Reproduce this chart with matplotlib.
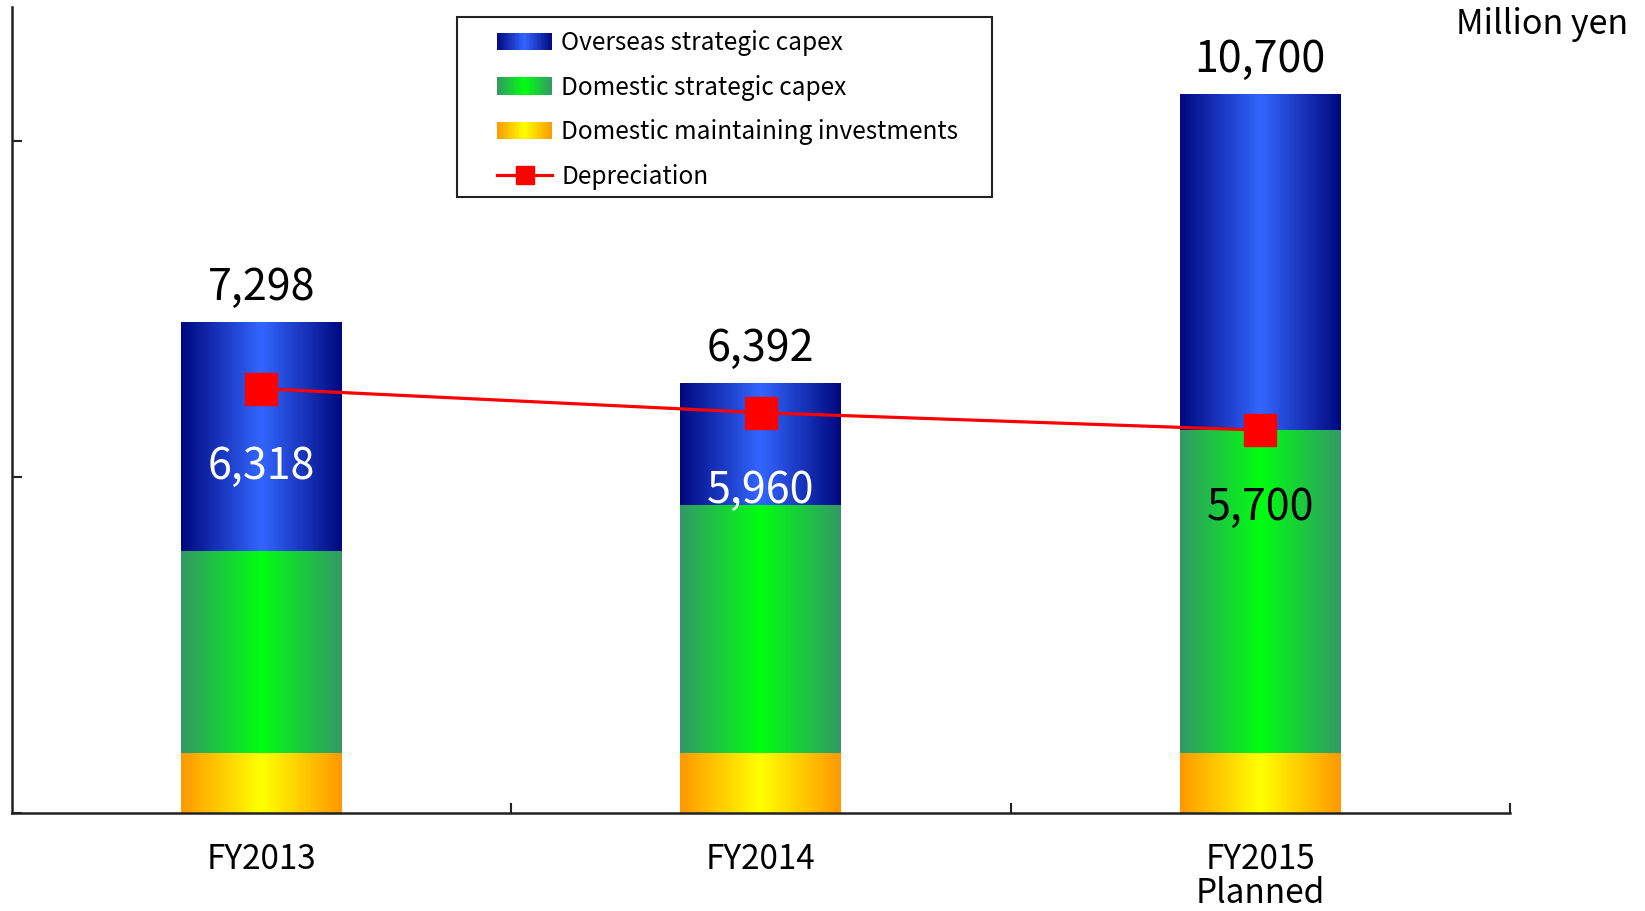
import numpy as np
import matplotlib
matplotlib.use("Agg")
import matplotlib.pyplot as plt
from matplotlib.colors import LinearSegmentedColormap
from matplotlib.legend_handler import HandlerBase
from matplotlib.patches import Rectangle
from matplotlib.lines import Line2D

# ---------------- data ----------------
categories = ["FY2013", "FY2014", "FY2015\nPlanned"]
maintaining = [900, 900, 900]
domestic = [3000, 3690, 4800]
overseas = [3398, 1802, 5000]
totals = [7298, 6392, 10700]
depreciation = [6318, 5960, 5700]
series_names = ["Overseas strategic capex", "Domestic strategic capex",
                "Domestic maintaining investments", "Depreciation"]

TXT = ["Noto Sans CJK JP", "DejaVu Sans"]
NUM = ["Noto Sans CJK JP", "DejaVu Sans"]

def grad_cmap(edge, center):
    return LinearSegmentedColormap.from_list("g", [edge, center, edge])

cm_over = grad_cmap("#00087f", "#3366ff")
cm_dom = grad_cmap("#339966", "#00ff10")
cm_main = grad_cmap("#ff9900", "#ffff00")

fig = plt.figure(figsize=(16.45, 9.11), dpi=100)
ax = fig.add_axes([11.5 / 1645, 1 - 813 / 911, (1510 - 11.5) / 1645, (813 - 7) / 911])

x = np.arange(len(categories))
w = 0.322
grad = np.linspace(0, 1, 256)[np.newaxis, :]

bottoms = np.zeros(len(categories))
for vals, cm in [(maintaining, cm_main), (domestic, cm_dom), (overseas, cm_over)]:
    for xi, b, v in zip(x, bottoms, vals):
        ax.imshow(grad, cmap=cm, extent=[xi - w / 2, xi + w / 2, b, b + v],
                  aspect="auto", interpolation="bilinear", zorder=2)
    bottoms = bottoms + np.array(vals)

ax.plot(x, depreciation, color="#ff0000", lw=2.3, marker="s", ms=23,
        mec="#ff0000", mfc="#ff0000", zorder=4)

for xi, t in zip(x, totals):
    ax.annotate(f"{t:,}", (xi, t), xytext=(0, 25), textcoords="offset points",
                ha="center", va="center", fontsize=31, family=NUM, zorder=5)

dep_colors = ["white", "white", "black"]
for xi, d, c in zip(x, depreciation, dep_colors):
    ax.annotate(f"{d:,}", (xi, d), xytext=(0, -56), textcoords="offset points",
                ha="center", va="center", fontsize=31, family=NUM, color=c, zorder=5)

ax.set_xlim(-0.5, 2.5)
ax.set_ylim(0, 12000)
ax.spines["top"].set_visible(False)
ax.spines["right"].set_visible(False)
for s in ("left", "bottom"):
    ax.spines[s].set_linewidth(1.8)
    ax.spines[s].set_color("#222222")
ax.set_yticks([0, 5000, 10000])
ax.set_yticklabels([])
ax.tick_params(axis="y", direction="in", length=7, width=1.5, color="#222222")
ax.set_xticks([0.5, 1.5, 2.5])
ax.set_xticklabels([])
ax.tick_params(axis="x", which="major", direction="in", length=7, width=1.5, color="#222222")
ax.set_xticks(x, minor=True)
ax.set_xticklabels(categories, minor=True, fontsize=24, family=TXT, linespacing=0.97)
ax.tick_params(axis="x", which="minor", length=0, pad=21)

fig.text(1628 / 1645, 1 - 24 / 911, "Million yen", ha="right", va="center",
         fontsize=24.5, family=NUM)

# ---------------- legend ----------------
class GradProxy(Rectangle):
    pass

class GradHandler(HandlerBase):
    def create_artists(self, legend, orig, xd, yd, width, height, fontsize, trans):
        n = 40
        arts = []
        cm = orig.cmap
        for i in range(n):
            r = Rectangle((-xd + width * i / n, -yd), width / n * 1.05, height,
                          facecolor=cm((i + 0.5) / n), edgecolor="none", transform=trans)
            arts.append(r)
        return arts

handles = []
for cm in (cm_over, cm_dom, cm_main):
    p = GradProxy((0, 0), 1, 1)
    p.cmap = cm
    handles.append(p)
handles.append(Line2D([], [], color="#ff0000", lw=2.3, marker="s", ms=13))

leg = fig.legend(handles, series_names, handler_map={GradProxy: GradHandler()},
                 loc="upper left", bbox_to_anchor=(497 / 1645, 1 - 30 / 911),
                 frameon=False, borderpad=0, borderaxespad=0,
                 prop={"family": TXT, "size": 17.6}, handlelength=2.25, handleheight=0.72,
                 handletextpad=0.38, labelspacing=0.76)

fig.patches.append(Rectangle((457 / 1645, 1 - 197 / 911), (992 - 457) / 1645, 180 / 911,
                             transform=fig.transFigure, fill=False, edgecolor="#222222",
                             lw=1.5, zorder=10))

fig.savefig("out.png", dpi=100)
